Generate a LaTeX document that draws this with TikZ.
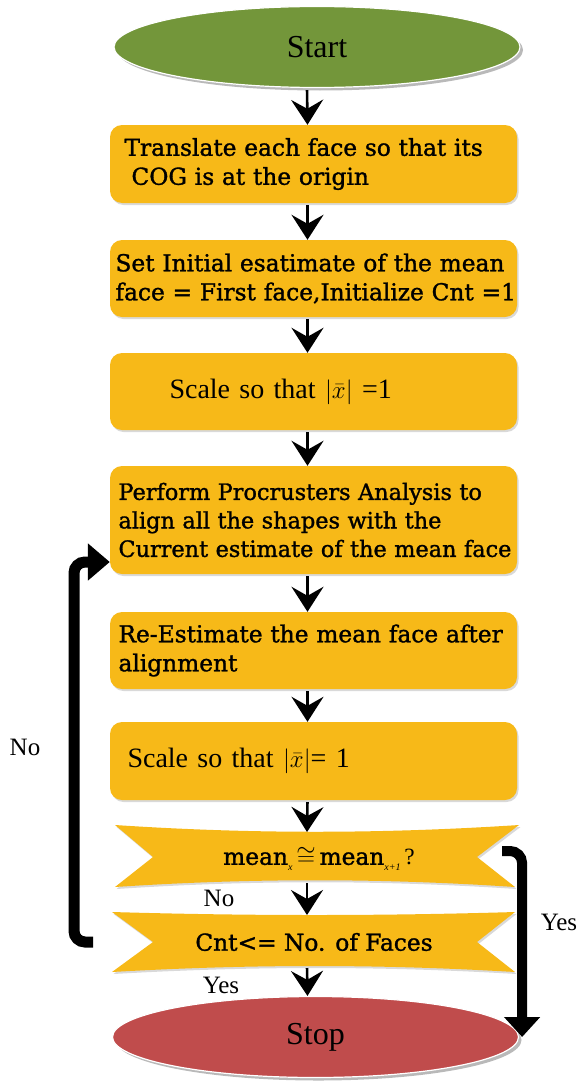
\documentclass[tikz,border=0pt]{standalone}
\usepackage{fontspec}
\setmainfont{DejaVu Serif}
\newfontfamily\slab{DejaVu Serif}[FakeBold=1.3]
\newfontfamily\lblfont{Liberation Serif}
\usetikzlibrary{arrows.meta,shadows,shapes.geometric}
\definecolor{startgreen}{RGB}{115,150,58}
\definecolor{boxgold}{RGB}{247,185,24}
\definecolor{stopred}{RGB}{192,76,76}
% small italic index set below the baseline
\newcommand{\idx}[1]{\raisebox{-0.45ex}{\lblfont\itshape\fontsize{10}{10}\selectfont #1}}

\begin{document}
\begin{tikzpicture}[x=1pt,y=-1pt,
  softshadow/.style={drop shadow={shadow xshift=1.5pt,shadow yshift=-2pt,opacity=0.3,fill=gray}},
  stepbox/.style={fill=boxgold, rounded corners=12pt, minimum width=407pt,
    text width=400pt, inner xsep=3.5pt, align=left,
    font=\slab\fontsize{23.3}{29}\selectfont, softshadow},
  endcap/.style={ellipse, draw=white, line width=1.2pt, minimum width=406pt,
    minimum height=81pt, inner sep=0pt,
    drop shadow={shadow xshift=3pt,shadow yshift=-3pt,opacity=0.55,fill=gray},
    font=\lblfont\fontsize{32}{34}\selectfont},
  dectext/.style={inner sep=0pt, font=\slab\fontsize{23.3}{29}\selectfont},
  lbl/.style={inner sep=0pt, font=\lblfont\fontsize{25}{27}\selectfont},
  flow/.style={draw=black, line width=2.6pt, shorten <=2pt,
    -{Stealth[length=25pt,width=32pt,inset=9pt]}},
  loopline/.style={draw=black, line width=11pt, rounded corners=11pt,
    -{Triangle[length=22pt,width=36pt]}},
  yesline/.style={draw=black, line width=10pt, rounded corners=12pt,
    -{Triangle[length=20pt,width=35pt]}}
]
\useasboundingbox (0,0) rectangle (587,1081);

% terminals
\node[endcap, fill=startgreen] (start) at (317,47) {Start};
\node[endcap, fill=stopred] (stop) at (315.5,1037) {Stop};

% process steps
\node[stepbox, minimum height=78pt] (b1) at (313.5,164)
  {\hspace*{11pt}\mbox{Translate each face so that its}\\\hspace*{18pt}\mbox{COG is at the origin}};
\node[stepbox, minimum height=77pt] (b2) at (313.5,278.5)
  {\hspace*{2pt}\mbox{Set Initial esatimate of the mean}\\\hspace*{2pt}\mbox{face = First face,Initialize Cnt =1}};
\node[stepbox, minimum height=77pt, font=\lblfont\fontsize{28}{30}\selectfont] (b3) at (313.5,391.5)
  {\hspace*{56pt}Scale so that $|\bar{x}|$ =1};
\node[stepbox, minimum height=108pt, font=\slab\fontsize{22.4}{28.5}\selectfont] (b4) at (313.5,520)
  {\hspace*{5pt}\mbox{Perform Procrusters Analysis to}\\\hspace*{5pt}\mbox{align all the shapes with the}\\\hspace*{5pt}\mbox{Current estimate of the mean face}};
\node[stepbox, minimum height=77pt] (b5) at (313.5,650.5)
  {\hspace*{5pt}\mbox{Re-Estimate the mean face after}\\\hspace*{5pt}\mbox{alignment}};
\node[stepbox, minimum height=78pt, font=\lblfont\fontsize{28}{30}\selectfont] (b6) at (313.5,761)
  {\hspace*{14pt}Scale so that $|\bar{x}|$= 1};

% decision ribbons
\fill[boxgold, softshadow] (115,825) .. controls (250,834) and (380,834) .. (519,825)
  -- (477,857) -- (515,887) .. controls (380,878) and (250,878) .. (115,887)
  -- (153,857) -- cycle;
\fill[boxgold, softshadow] (112,912) .. controls (250,916) and (380,916) .. (515,912)
  -- (477,942) -- (515,972) .. controls (380,964) and (250,964) .. (112,972)
  -- (153,942) -- cycle;
\coordinate (d1top) at (307,832);
\coordinate (d1bot) at (307,881);
\coordinate (d2top) at (307,915);
\coordinate (d2bot) at (307,966);
\coordinate (d1e) at (502,851);
\coordinate (d2w) at (93,942);
\node[dectext] (d1) at (319,859) {mean\idx{x}\,$\cong$\,mean\idx{x+1}\,{\lblfont ?}};
\node[dectext] (d2) at (314,942) {Cnt<= No. of Faces};

% main flow
\draw[flow] ([xshift=-10pt]start.south) -- ([xshift=-6pt]b1.north);
\draw[flow] ([xshift=-6pt]b1.south) -- ([xshift=-6pt]b2.north);
\draw[flow] ([xshift=-6pt]b2.south) -- ([xshift=-6pt]b3.north);
\draw[flow] ([xshift=-6pt]b3.south) -- ([xshift=-6pt]b4.north);
\draw[flow] ([xshift=-6pt]b4.south) -- ([xshift=-6pt]b5.north);
\draw[flow] ([xshift=-6pt]b5.south) -- ([xshift=-6pt]b6.north);
\draw[flow] ([xshift=-6pt]b6.south) -- (d1top);
\draw[flow] (d1bot) -- (d2top);
\draw[flow] (d2bot) -- ([xshift=-8pt]stop.north);

% loop back and exit
\draw[loopline] (d2w) -- (74,942) -- (74,562) -- ([yshift=-42pt]b4.west);
\draw[yesline] (d1e) -| ([xshift=3pt]stop.east);

% branch labels
\node[lbl] (lno) at (25,747) {No};
\node[lbl] (dno) at (219,898) {No};
\node[lbl] (dyes) at (221,985) {Yes};
\node[lbl] (ryes) at (559,922) {Yes};
\end{tikzpicture}
\end{document}
